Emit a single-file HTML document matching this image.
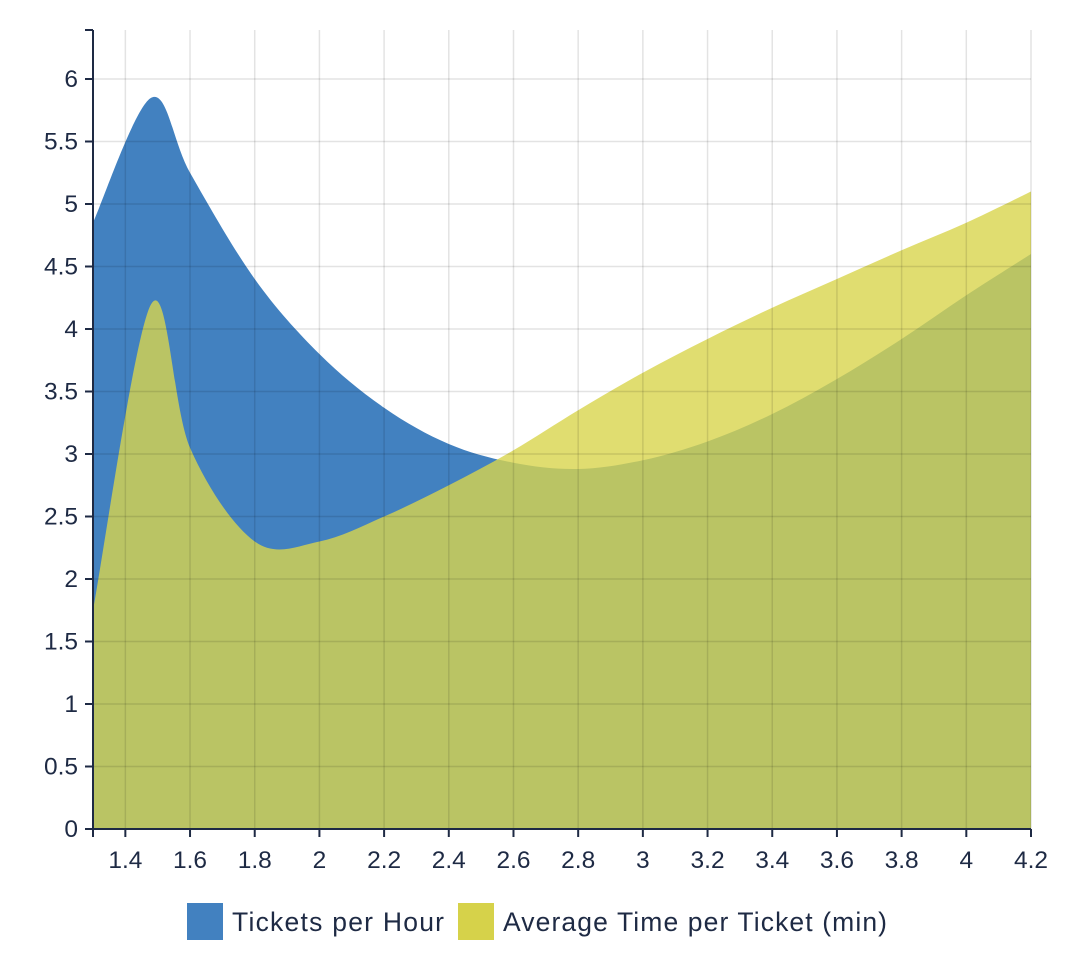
<!DOCTYPE html>
<html><head><meta charset="utf-8"><style>
body{margin:0;background:#fff;}
text{font-family:"Liberation Sans",sans-serif;fill:#1e2a44;}
</style></head><body>
<svg id="chart" width="1088" height="972">
<g id="grid"></g>
<g id="areas"></g>
<g id="grid2"></g>
<g id="axes"></g>
<g>
<rect x="187" y="903" width="36" height="37" fill="#4281c0"/>
<text x="232" y="931" font-size="26.5" textLength="212">Tickets per Hour</text>
<rect x="458" y="903" width="36" height="37" fill="#d6d24a"/>
<text x="503" y="931" font-size="26.5" textLength="384">Average Time per Ticket (min)</text>
</g>
</svg>
<script>
const xVals=[1.3,1.48,1.6,1.8,2.0,2.2,2.4,2.6,2.8,3.0,3.2,3.4,3.6,3.8,4.0,4.2];
const ticketsPerHour=[4.85,5.85,5.25,4.4,3.8,3.37,3.08,2.93,2.88,2.95,3.1,3.32,3.6,3.92,4.27,4.6];
const avgTime=[1.75,4.2,3.05,2.3,2.3,2.5,2.75,3.03,3.35,3.65,3.92,4.17,4.4,4.63,4.85,5.1];
const xTicks=[1.4,1.6,1.8,2,2.2,2.4,2.6,2.8,3,3.2,3.4,3.6,3.8,4,4.2];
const yTicks=[0,0.5,1,1.5,2,2.5,3,3.5,4,4.5,5,5.5,6];
const X0=93,X1=1031,Y0=829,YTOP=30;
const xs=v=>X0+(v-1.3)/(4.2-1.3)*(X1-X0);
const ys=v=>Y0-v*125;
const NS="http://www.w3.org/2000/svg";
function mk(t,a,p){const e=document.createElementNS(NS,t);for(const k in a)e.setAttribute(k,a[k]);p.appendChild(e);return e;}
function smooth(pts){let d=`M${pts[0][0]},${pts[0][1]}`;
for(let i=0;i<pts.length-1;i++){const p0=pts[Math.max(0,i-1)],p1=pts[i],p2=pts[i+1],p3=pts[Math.min(pts.length-1,i+2)];
const c1=[p1[0]+(p2[0]-p0[0])/6,p1[1]+(p2[1]-p0[1])/6],c2=[p2[0]-(p3[0]-p1[0])/6,p2[1]-(p3[1]-p1[1])/6];
d+=`C${c1[0]},${c1[1]} ${c2[0]},${c2[1]} ${p2[0]},${p2[1]}`;}return d;}
const grid=document.getElementById('grid2'),areas=document.getElementById('areas'),axes=document.getElementById('axes');
function area(vals,fill,op,name){const pts=xVals.map((x,i)=>[xs(x),ys(vals[i])]);
const d=smooth(pts)+`L${xs(4.2)},${Y0}L${xs(1.3)},${Y0}Z`;
const p=mk('path',{d:d,fill:fill,'fill-opacity':op},areas);

}
area(ticketsPerHour,'#4281c0',1,'area-tickets-per-hour');
area(avgTime,'#d8d44c',0.8,'area-average-time');
xTicks.forEach(t=>{const x=xs(t);
const l=mk('line',{x1:x,x2:x,y1:YTOP,y2:Y0,stroke:'rgba(0,0,0,0.11)','stroke-width':1.5},grid);


mk('line',{x1:x,x2:x,y1:Y0,y2:Y0+8,stroke:'#1e2a44','stroke-width':2},axes);
const tx=mk('text',{x:x,y:Y0+39,'font-size':24.5,'text-anchor':'middle'},axes);tx.textContent=t;

});
yTicks.forEach(t=>{const y=ys(t);
const l=mk('line',{x1:X0,x2:X1,y1:y,y2:y,stroke:'rgba(0,0,0,0.11)','stroke-width':1.5},grid);


mk('line',{x1:X0-8,x2:X0,y1:y,y2:y,stroke:'#1e2a44','stroke-width':2},axes);
const tx=mk('text',{x:X0-15,y:y+8,'font-size':24.5,'text-anchor':'end'},axes);tx.textContent=t;

});
mk('line',{x1:X0,x2:X0,y1:YTOP,y2:Y0,stroke:'#1e2a44','stroke-width':2},axes);
mk('line',{x1:X0-8,x2:X0,y1:YTOP,y2:YTOP,stroke:'#1e2a44','stroke-width':2},axes);
mk('line',{x1:X0,x2:X1,y1:Y0,y2:Y0,stroke:'#1e2a44','stroke-width':2},axes);
mk('line',{x1:X0,x2:X0,y1:Y0,y2:Y0+8,stroke:'#1e2a44','stroke-width':2},axes);
</script>
</body></html>
